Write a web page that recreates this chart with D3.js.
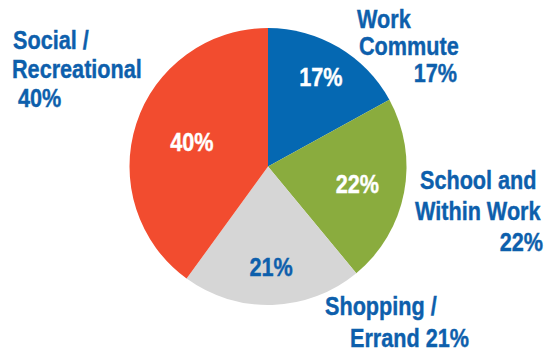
<!DOCTYPE html>
<html>
<head>
<meta charset="utf-8">
<script src="https://cdn.jsdelivr.net/npm/d3@7/dist/d3.min.js"></script>
<style>
  html, body { margin: 0; padding: 0; background: #fff; }
  svg text {
    font-family: "Liberation Sans", Arial, sans-serif;
    font-weight: bold;
    stroke-width: 0.4px;
    paint-order: stroke;
  }
</style>
</head>
<body>
<svg id="chart" width="549" height="351"></svg>
<script>
// Trip purpose shares, clockwise from 12 o'clock
const categories = ["Work Commute", "School and Within Work", "Shopping / Errand", "Social / Recreational"];
const shares = [17, 22, 21, 40];
const sliceColors = ["#0568b2", "#8aac3e", "#d6d6d6", "#f24c2f"];
// Multi-line callout text for each category
const calloutLines = [
  ["Work", "Commute", "17%"],
  ["School and", "Within Work", "22%"],
  ["Shopping /", "Errand 21%"],
  ["Social /", "Recreational", "40%"]
];

const svg = d3.select("#chart");
const cx = 268, cy = 166.5, R = 138.5;
const textBlue = "#0d5fac";
const condense = 0.865; // horizontal squeeze for a condensed bold face

// squeeze each text horizontally, keeping its anchor
function condenseText(sel) {
  sel.each(function () {
    const w = this.getComputedTextLength();
    d3.select(this).attr("textLength", w * condense).attr("lengthAdjust", "spacingAndGlyphs");
  });
}

const pie = d3.pie().sort(null).value(d => d.v).startAngle(0).endAngle(2 * Math.PI);
const arcs = pie(categories.map((c, i) => ({ c, v: shares[i], i })));
const arc = d3.arc().innerRadius(0).outerRadius(R);

const g = svg.append("g").attr("transform", `translate(${cx},${cy})`);

g.selectAll("path.slice")
  .data(arcs)
  .join("path")
  .attr("class", "slice")
  .attr("d", arc)
  .attr("fill", d => sliceColors[d.data.i]);

// Percent labels inside the slices
const innerRadius = [104, 91, 101, 80];
const fmt = v => `${v}%`;
g.selectAll("text.inner")
  .data(arcs)
  .join("text")
  .attr("class", "inner")
  .attr("text-anchor", "middle")
  .attr("font-size", 25)
  .attr("fill", d => d.data.i === 2 ? textBlue : "#ffffff")
  .attr("stroke", d => d.data.i === 2 ? textBlue : "#ffffff")
  .attr("x", d => Math.sin((d.startAngle + d.endAngle) / 2) * innerRadius[d.data.i])
  .attr("y", d => -Math.cos((d.startAngle + d.endAngle) / 2) * innerRadius[d.data.i] + 9)
  .text(d => fmt(d.data.v))
  .call(condenseText);

// Callout labels outside the pie
const callouts = [
  { y: 27.5, step: 27, anchors: ["start", "start", "end"], xs: [357, 359, 457] },
  { y: 188.5, step: 31, anchors: ["start", "start", "end"], xs: [420, 415, 543] },
  { y: 315, step: 31.5, anchors: ["start", "start"], xs: [325, 350] },
  { y: 48.5, step: 29.2, anchors: ["start", "start", "start"], xs: [13, 12, 18] }
];

calloutLines.forEach((lines, i) => {
  const c = callouts[i];
  svg.append("g").selectAll("text")
    .data(lines)
    .join("text")
    .attr("font-size", 25)
    .attr("fill", textBlue)
    .attr("stroke", textBlue)
    .attr("text-anchor", (d, j) => c.anchors[j])
    .attr("x", (d, j) => c.xs[j])
    .attr("y", (d, j) => c.y + j * c.step)
    .text(d => d)
    .call(condenseText);
});
</script>
</body>
</html>
